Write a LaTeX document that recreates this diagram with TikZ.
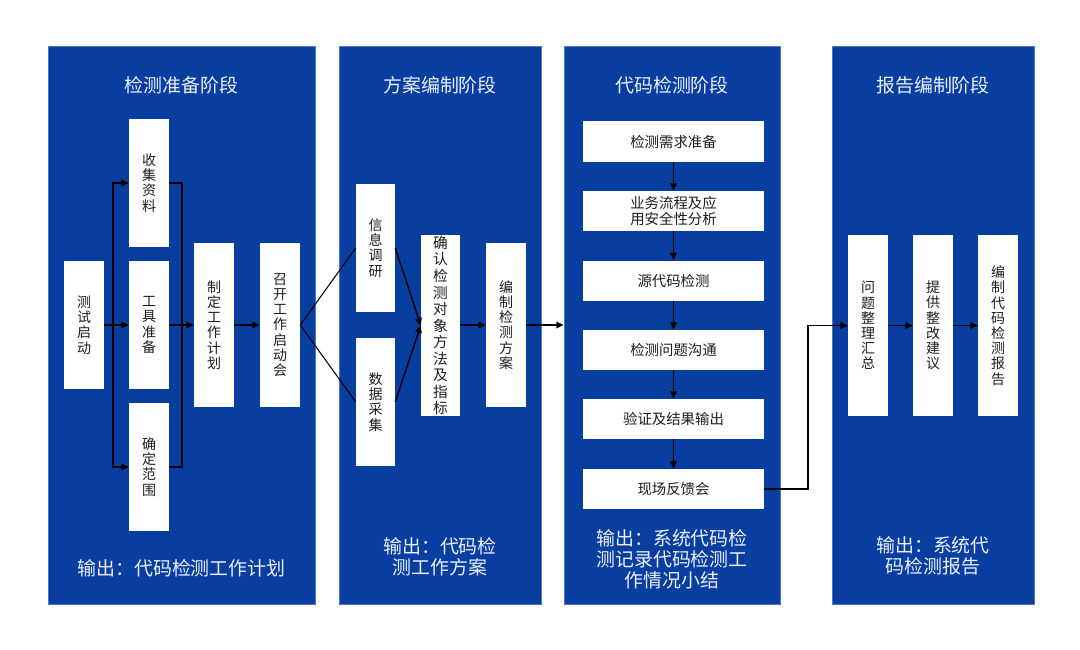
\documentclass[tikz,border=0pt]{standalone}
\usepackage{fontspec}
\setmainfont{Noto Sans CJK SC}
\usetikzlibrary{arrows.meta}
\definecolor{panelblue}{RGB}{7,62,160}
\definecolor{paneltext}{RGB}{236,240,255}
\definecolor{boxtext}{RGB}{30,30,30}
\tikzset{
  panel/.style={fill=panelblue, draw=panelblue!70!white, line width=0.6pt, inner sep=0pt},
  ptitle/.style={text=paneltext, font=\fontsize{14.2pt}{16pt}\selectfont, inner sep=0pt},
  pout/.style={text=paneltext, font=\fontsize{14.2pt}{15.8pt}\selectfont, align=center, inner sep=0pt},
  vbox/.style={fill=white, inner sep=0pt, align=center, text=boxtext,
    font=\fontsize{10.5pt}{11.4pt}\selectfont},
  hbox/.style={fill=white, inner sep=0pt, align=center, text=boxtext,
    minimum width=181*0.75pt, minimum height=40*0.75pt,
    font=\fontsize{10.8pt}{11.8pt}\selectfont},
  arr/.style={line width=1.1pt, -{Triangle[length=5.5pt,width=5pt]}},
  ln/.style={line width=1.1pt},
  thin/.style={line width=0.8pt},
}
\begin{document}
\begin{tikzpicture}[x=0.75pt,y=-0.75pt]
\useasboundingbox (0,0) rectangle (1080,649);
\fill[white] (0,0) rectangle (1080,649);

% panels
\node[panel, minimum width=267*0.75pt, minimum height=558*0.75pt] (p1) at (181.5,325) {};
\node[panel, minimum width=202*0.75pt, minimum height=558*0.75pt] (p2) at (440,325) {};
\node[panel, minimum width=216*0.75pt, minimum height=558*0.75pt] (p3) at (672,325) {};
\node[panel, minimum width=202*0.75pt, minimum height=558*0.75pt] (p4) at (933,325) {};

% titles
\node[ptitle] (t1) at (181.5,85) {检测准备阶段};
\node[ptitle] (t2) at (440,85) {方案编制阶段};
\node[ptitle] (t3) at (672,85) {代码检测阶段};
\node[ptitle] (t4) at (933,85) {报告编制阶段};

% outputs
\node[pout] (o1) at (181.5,568) {输出：代码检测工作计划};
\node[pout] (o2) at (440,557) {输出：代码检\\测工作方案};
\node[pout] (o3) at (672,559.5) {输出：系统代码检\\测记录代码检测工\\作情况小结};
\node[pout] (o4) at (933,555.5) {输出：系统代\\码检测报告};

% panel 1 boxes
\node[vbox, minimum width=40*0.75pt, minimum height=128*0.75pt] (start) at (84,325) {测\\试\\启\\动};
\node[vbox, minimum width=40*0.75pt, minimum height=128*0.75pt] (shouji) at (149,183) {收\\集\\资\\料};
\node[vbox, minimum width=40*0.75pt, minimum height=128*0.75pt] (gongju) at (149,325) {工\\具\\准\\备};
\node[vbox, minimum width=40*0.75pt, minimum height=128*0.75pt] (queding) at (149,467) {确\\定\\范\\围};
\node[vbox, minimum width=40*0.75pt, minimum height=164*0.75pt] (zhiding) at (214,325) {制\\定\\工\\作\\计\\划};
\node[vbox, minimum width=40*0.75pt, minimum height=164*0.75pt] (zhaokai) at (280,325) {召\\开\\工\\作\\启\\动\\会};

% panel 2 boxes
\node[vbox, minimum width=39*0.75pt, minimum height=128*0.75pt] (xinxi) at (375.5,248) {信\\息\\调\\研};
\node[vbox, minimum width=39*0.75pt, minimum height=128*0.75pt] (shuju) at (375.5,402) {数\\据\\采\\集};
\node[vbox, minimum width=39*0.75pt, minimum height=181*0.75pt,
      font=\fontsize{11pt}{12.4pt}\selectfont] (queren) at (440.5,325.5) {确\\认\\检\\测\\对\\象\\方\\法\\及\\指\\标};
\node[vbox, minimum width=40*0.75pt, minimum height=164*0.75pt] (fangan) at (506,325) {编\\制\\检\\测\\方\\案};

% panel 3 boxes
\node[hbox] (c1) at (673.5,141.5) {检测需求准备};
\node[hbox] (c2) at (673.5,211) {业务流程及应\\用安全性分析};
\node[hbox] (c3) at (673.5,280.5) {源代码检测};
\node[hbox] (c4) at (673.5,350) {检测问题沟通};
\node[hbox] (c5) at (673.5,419) {验证及结果输出};
\node[hbox] (c6) at (673.5,489) {现场反馈会};

% panel 4 boxes
\node[vbox, minimum width=40*0.75pt, minimum height=181*0.75pt] (wenti) at (868,325.5) {问\\题\\整\\理\\汇\\总};
\node[vbox, minimum width=40*0.75pt, minimum height=181*0.75pt] (tigong) at (933,325.5) {提\\供\\整\\改\\建\\议};
\node[vbox, minimum width=40*0.75pt, minimum height=181*0.75pt] (baogao) at (998,325.5) {编\\制\\代\\码\\检\\测\\报\\告};

% coordinates
\coordinate (br) at (113,325);
\coordinate (col) at (182,325);
\coordinate (turn) at (808,489);

% panel 1 connectors
\draw[arr] (start.east) -- (gongju.west);
\draw[arr] (br) |- (shouji.west);
\draw[arr] (br) |- (queding.west);
\draw[ln] (shouji.east) -| (col);
\draw[ln] (queding.east) -| (col);
\draw[arr] (gongju.east) -- (zhiding.west);
\draw[arr] (zhiding.east) -- (zhaokai.west);
\draw[thin] (zhaokai.east) -- (xinxi.west);
\draw[thin] (zhaokai.east) -- (shuju.west);

% panel 2 connectors
\draw[arr] (xinxi.east) -- (queren.west);
\draw[arr] (shuju.east) -- (queren.west);
\draw[arr] (queren.east |- fangan.west) -- (fangan.west);
\draw[arr] (fangan.east) -- (fangan.east -| p3.west);

% panel 3 connectors
\draw[arr] (c1) -- (c2);
\draw[arr] (c2) -- (c3);
\draw[arr] (c3) -- (c4);
\draw[arr] (c4) -- (c5);
\draw[arr] (c5) -- (c6);
\draw[arr] (c6.east) -- (turn) |- (wenti.west);

% panel 4 connectors
\draw[arr] (wenti.east) -- (tigong.west);
\draw[arr] (tigong.east) -- (baogao.west);
\end{tikzpicture}
\end{document}
